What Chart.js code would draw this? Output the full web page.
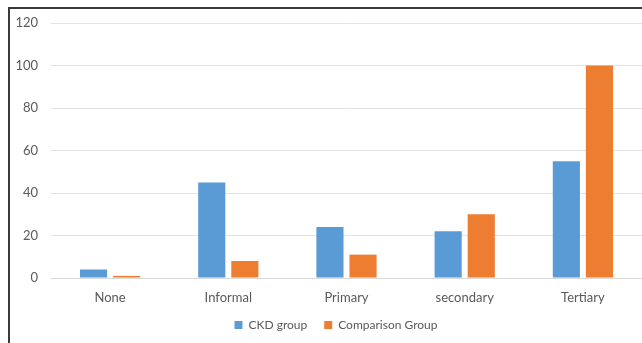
<!DOCTYPE html>
<html>
<head>
<meta charset="utf-8">
<script src="https://cdn.jsdelivr.net/npm/chart.js@4"></script>
<style>
  body { margin: 0; background: #fff; }
  #wrap { position: relative; width: 642px; height: 343px; }
  #frame {
    position: absolute; left: 8px; top: 7px; right: -5px; bottom: -5px;
    border-left: 2px solid #3a3a3a; border-top: 2px solid #3a3a3a;
    pointer-events: none;
  }
</style>
</head>
<body>
<div id="wrap">
  <canvas id="eduChart" width="642" height="343"></canvas>
  <div id="frame"></div>
</div>
<script>
// data
const categories = ["None", "Informal", "Primary", "secondary", "Tertiary"];
const ckdValues = [4, 45, 24, 22, 55];
const comparisonValues = [1, 8, 11, 30, 100];
const yTicks = [0, 20, 40, 60, 80, 100, 120];

const textColor = "#595959";
const fontFamily = "Lato, 'Open Sans', sans-serif";

// legend sits a bit right of the canvas centre in the original,
// and the x labels must not be clipped by the squeezed axis box
const layoutTweaks = {
  id: "layoutTweaks",
  afterLayout(chart) {
    chart.legend.left += 15;
    chart.legend.right += 15;
    chart.scales.x.bottom += 20;
  },
};

var ctx = document.getElementById("eduChart").getContext("2d");
var eduChart = new Chart(ctx, {
  type: "bar",
  data: {
    labels: categories,
    datasets: [
      {
        label: "CKD group",
        data: ckdValues,
        backgroundColor: "#5B9BD5",
        categoryPercentage: 0.56,
        barPercentage: 0.82,
      },
      {
        label: "Comparison Group",
        data: comparisonValues,
        backgroundColor: "#ED7D31",
        categoryPercentage: 0.56,
        barPercentage: 0.82,
      },
    ],
  },
  plugins: [layoutTweaks],
  options: {
    responsive: false,
    animation: false,
    layout: {
      padding: { top: 23, right: 0, bottom: 2, left: 0 },
    },
    plugins: {
      legend: {
        position: "bottom",
        labels: {
          color: textColor,
          font: { family: fontFamily, size: 12 },
          boxWidth: 8,
          boxHeight: 8,
          padding: 17,
        },
      },
      tooltip: { enabled: false },
    },
    scales: {
      x: {
        afterFit: function (scale) {
          scale.height = 24;
        },
        grid: { display: false },
        border: { color: "#d9d9d9" },
        ticks: {
          color: textColor,
          font: { family: fontFamily, size: 13 },
          padding: 4,
        },
      },
      y: {
        min: 0,
        max: 120,
        afterFit: function (scale) {
          scale.width = 51;
        },
        afterBuildTicks: function (scale) {
          scale.ticks = yTicks.map((v) => ({ value: v }));
        },
        grid: { color: "#e3e3e3", drawTicks: false },
        border: { display: false },
        ticks: {
          color: textColor,
          font: { family: fontFamily, size: 13 },
          padding: 13,
        },
      },
    },
  },
});
</script>
</body>
</html>
